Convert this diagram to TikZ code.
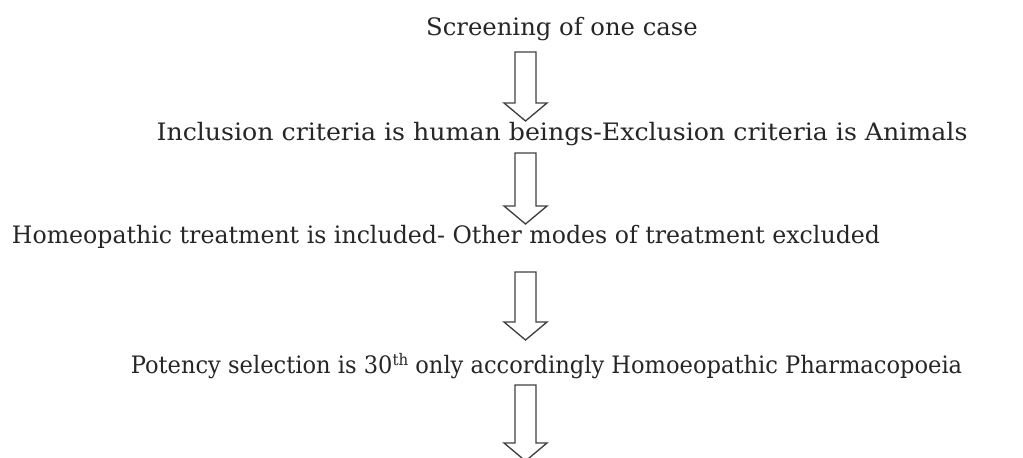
\documentclass[tikz,border=0pt]{standalone}
\usepackage{fontspec}
\setmainfont{DejaVu Serif}
\begin{document}
\begin{tikzpicture}[x=0.75pt,y=-0.75pt,
  lbl/.style={anchor=base,inner sep=0pt,font=\fontsize{18}{21}\selectfont,text=black!85},
  blockarrow/.style={draw=black!75,line width=1pt,fill=white,line join=miter}]
\useasboundingbox (0,0) rectangle (1023,457);
\node[lbl] (t1) at (562,35) {\scalebox{1.012}[1]{Screening of one case}};
\node[lbl] (t2) at (562,140) {\scalebox{1.051}[1]{Inclusion criteria is human beings-Exclusion criteria is Animals}};
\node[lbl] (t3) at (446,243) {\scalebox{0.985}[1]{Homeopathic treatment is included- Other modes of treatment excluded}};
\node[lbl] (t4) at (546.5,373) {\scalebox{0.94}[1]{Potency selection is 30{\fontsize{12}{14}\selectfont\raisebox{0.45em}{th}} only accordingly Homoeopathic Pharmacopoeia}};
\foreach \top/\hs/\tip in {52/103/121, 153/206/224, 272/322/340, 385/443/461}{
  \draw[blockarrow] (515,\top) -- (536,\top) -- (536,\hs) -- (547,\hs) -- (525.5,\tip)
     -- (504,\hs) -- (515,\hs) -- cycle;
}
\end{tikzpicture}
\end{document}
